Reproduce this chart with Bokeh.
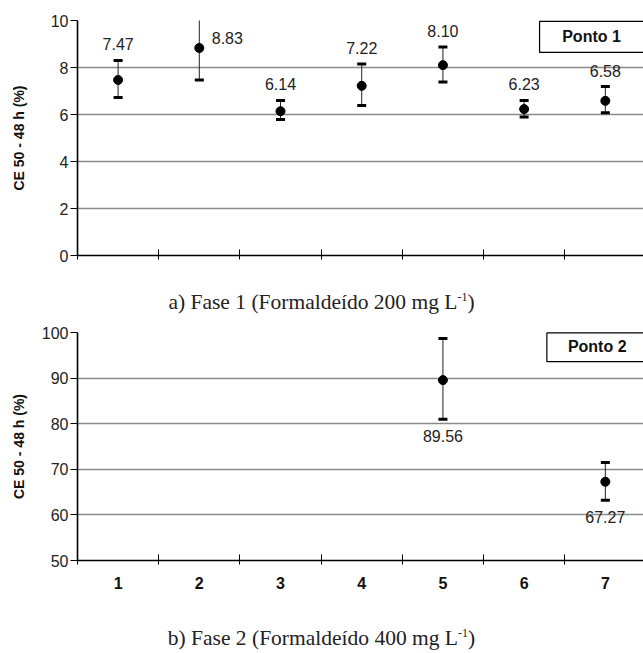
from bokeh.plotting import figure
from bokeh.models import FixedTicker, Label, Div, ColumnDataSource
from bokeh.layouts import column
from bokeh.core.properties import value
from bokeh.embed import file_html
from bokeh.resources import INLINE

# ---- data ----
samples = [1, 2, 3, 4, 5, 6, 7]
tick_labels = ["1", "2", "3", "4", "5", "6", "7"]

p1_mean = [7.47, 8.83, 6.14, 7.22, 8.10, 6.23, 6.58]
p1_upper = [8.30, 10.19, 6.60, 8.15, 8.87, 6.60, 7.19]
p1_lower = [6.72, 7.47, 5.79, 6.38, 7.38, 5.89, 6.07]

p2_samples = [5, 7]
p2_mean = [89.56, 67.27]
p2_upper = [98.7, 71.5]
p2_lower = [81.0, 63.2]

ylabel = "CE 50 - 48 h (%)"
caption_a = "a) Fase 1 (Formaldeído 200 mg L<sup style='font-size:12px'>-1</sup>)"
caption_b = "b) Fase 2 (Formaldeído 400 mg L<sup style='font-size:12px'>-1</sup>)"

SANS = "Liberation Sans"
W = 643


def base_fig(height, y0, y1, yticks, top_border, bottom_border, show_xlabels, label_standoff):
    p = figure(width=W, height=height, x_range=(0.5, 7.47), y_range=(y0, y1),
               output_backend="svg", toolbar_location=None,
               min_border_left=77, min_border_right=0,
               min_border_top=top_border, min_border_bottom=bottom_border)
    p.outline_line_color = None
    p.background_fill_color = "white"
    p.border_fill_color = "white"
    p.xgrid.grid_line_color = None
    p.ygrid.grid_line_color = "#8a8a8a"
    p.ygrid.grid_line_width = 1.3

    # y axis
    p.yaxis.ticker = FixedTicker(ticks=yticks)
    p.yaxis.axis_line_color = "black"
    p.yaxis.axis_line_width = 1.6
    p.yaxis.major_tick_in = 0
    p.yaxis.major_tick_out = 7
    p.yaxis.major_tick_line_color = "black"
    p.yaxis.minor_tick_line_color = None
    p.yaxis.major_label_text_font = SANS
    p.yaxis.major_label_text_font_size = "16px"
    p.yaxis.major_label_text_color = "#222222"
    p.yaxis.major_label_standoff = 2
    p.yaxis.axis_label = ylabel
    p.yaxis.axis_label_text_font = SANS
    p.yaxis.axis_label_text_font_style = "bold"
    p.yaxis.axis_label_text_font_size = "14px"
    p.yaxis.axis_label_text_color = "#111111"
    p.yaxis.axis_label_standoff = label_standoff

    # x axis: minor ticks mark the category boundaries
    bounds = [s - 0.5 for s in samples] + [7.5]
    if show_xlabels:
        p.xaxis.ticker = FixedTicker(ticks=samples, minor_ticks=bounds)
        p.xaxis.major_label_overrides = {s: t for s, t in zip(samples, tick_labels)}
    else:
        p.xaxis.ticker = FixedTicker(ticks=[], minor_ticks=bounds)
    p.xaxis.axis_line_color = "black"
    p.xaxis.axis_line_width = 1.6
    p.xaxis.major_tick_line_color = None
    p.xaxis.major_tick_in = 0
    p.xaxis.major_tick_out = 0
    p.xaxis.minor_tick_line_color = "black"
    p.xaxis.minor_tick_in = 6
    p.xaxis.minor_tick_out = 4
    p.xaxis.major_label_text_font = SANS
    p.xaxis.major_label_text_font_style = "bold"
    p.xaxis.major_label_text_color = "#111111"
    p.xaxis.major_label_standoff = 12
    p.xaxis.major_label_text_font_size = "16px"
    return p


def errbars(p, xs, mean, lower, upper):
    p.segment(x0=xs, y0=lower, x1=xs, y1=upper, line_color="#222222", line_width=1)
    p.scatter(x=xs, y=upper, marker="dash", size=9, line_color="black", line_width=3)
    p.scatter(x=xs, y=lower, marker="dash", size=9, line_color="black", line_width=3)
    p.scatter(x=xs, y=mean, marker="circle", size=9, fill_color="black", line_color="black")


def legend_box(p, left, right, bottom, top, tx, ty, text):
    # drawn as a glyph so it is clipped by the plot frame (right border hidden)
    p.quad(left=[left], right=[right], bottom=[bottom], top=[top], fill_color="white",
           line_color="black", line_width=1.2, level="overlay")
    p.add_layout(Label(x=tx, y=ty, text=text, text_align="center",
                       text_baseline="middle", text_font=SANS, text_font_style="bold",
                       text_font_size="16px", text_color="#111111", level="overlay"))


# ---- top panel ----
p1 = base_fig(285, 0, 10, [0, 2, 4, 6, 8, 10], 20, 30, False, 21)
errbars(p1, samples, p1_mean, p1_lower, p1_upper)

lab_above = ColumnDataSource(dict(
    x=[s for i, s in enumerate(samples) if i != 1],
    y=[u for i, u in enumerate(p1_upper) if i != 1],
    t=["%.2f" % m for i, m in enumerate(p1_mean) if i != 1]))
p1.text(x="x", y="y", text="t", source=lab_above, text_align="center",
        text_baseline="middle", y_offset=-16, text_font=value(SANS),
        text_font_size="16px", text_color="#222222")
lab_side = ColumnDataSource(dict(x=[samples[1]], y=[p1_mean[1]], t=["%.2f" % p1_mean[1]]))
p1.text(x="x", y="y", text="t", source=lab_side, text_align="center",
        text_baseline="middle", x_offset=28, y_offset=-10, text_font=value(SANS),
        text_font_size="16px", text_color="#222222")

legend_box(p1, 6.19, 7.7, 8.64, 9.96, 6.83, 9.3, "Ponto 1")

# ---- bottom panel ----
p2 = base_fig(279, 50, 100, [50, 60, 70, 80, 90, 100], 11, 40, True, 12)
errbars(p2, p2_samples, p2_mean, p2_lower, p2_upper)
lab_below = ColumnDataSource(dict(x=p2_samples, y=p2_lower, t=["%.2f" % m for m in p2_mean]))
p2.text(x="x", y="y", text="t", source=lab_below, text_align="center",
        text_baseline="middle", y_offset=17, text_font=value(SANS),
        text_font_size="16px", text_color="#222222")

legend_box(p2, 6.28, 7.7, 93.6, 99.9, 6.9, 96.9, "Ponto 2")

# ---- captions ----
cap_style = ("font-family:'Liberation Serif',serif; font-size:21.5px; color:#222;"
             "text-align:center; width:627px; padding-left:16px; white-space:nowrap;"
             "position:relative;")
div_a = Div(text="<div style=\"%s line-height:36px; top:-6px;\">%s</div>" % (cap_style, caption_a),
            width=W, height=36, margin=(0, 0, 0, 0))
div_b = Div(text="<div style=\"%s line-height:24px; padding-top:25px; top:-4px;\">%s</div>" % (cap_style, caption_b),
            width=W, height=53, margin=(0, 0, 0, 0))

p1.margin = (0, 0, 0, 0)
p2.margin = (0, 0, 0, 0)
layout = column(p1, div_a, p2, div_b, spacing=0, margin=(0, 0, 0, 0))

open("out.html", "w").write(file_html(layout, INLINE))
